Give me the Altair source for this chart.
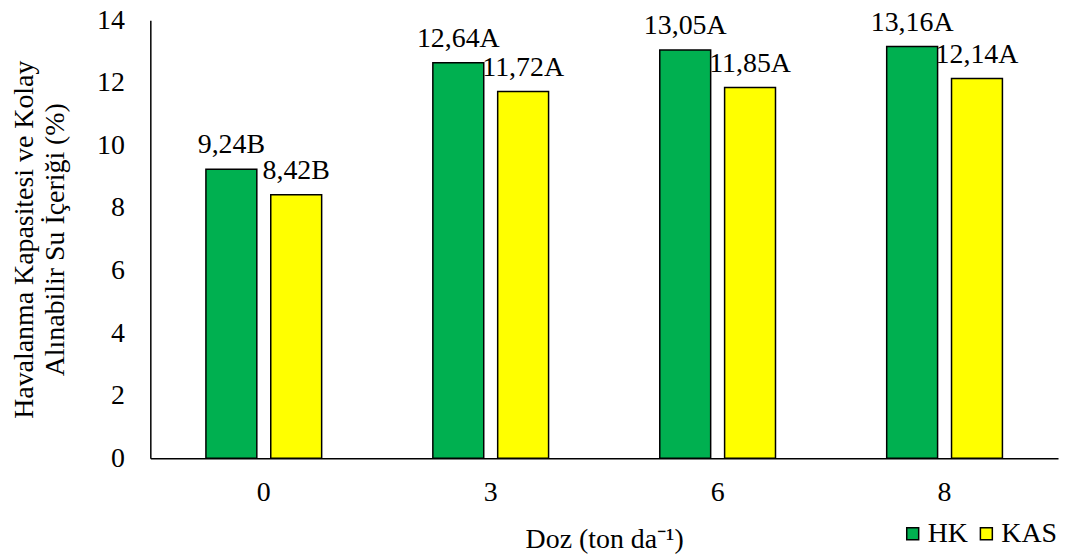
import altair as alt
import pandas as pd

doz = ["0", "3", "6", "8"]
hk = [9.24, 12.64, 13.05, 13.16]
kas = [8.42, 11.72, 11.85, 12.14]
hk_letters = ["B", "A", "A", "A"]
kas_letters = ["B", "A", "A", "A"]
series = ["HK", "KAS"]
colors = ["#00B050", "#FFFF00"]

rows = []
for d, v, l in zip(doz, hk, hk_letters):
    rows.append({"doz": d, "seri": "HK", "deger": v, "etiket": f"{v:.2f}".replace(".", ",") + l})
for d, v, l in zip(doz, kas, kas_letters):
    rows.append({"doz": d, "seri": "KAS", "deger": v, "etiket": f"{v:.2f}".replace(".", ",") + l})
df = pd.DataFrame(rows)

FONT = "Liberation Serif"
FS = 28

x = alt.X("doz:N", sort=doz,
          scale=alt.Scale(paddingInner=0.49, paddingOuter=0.245),
          axis=alt.Axis(title="Doz (ton da⁻¹)", labelAngle=0, ticks=False,
                        labelPadding=21, titlePadding=19, domainColor="black",
                        domainWidth=1.5))
xo = alt.XOffset("seri:N", sort=series,
                 scale=alt.Scale(paddingInner=0.215, paddingOuter=0))
y = alt.Y("deger:Q",
          scale=alt.Scale(domain=[0, 14], nice=False),
          axis=alt.Axis(title=["Havalanma Kapasitesi ve Kolay", "Alınabilir Su İçeriği (%)"],
                        values=[0, 2, 4, 6, 8, 10, 12, 14], grid=False, ticks=False,
                        labelPadding=26, domainColor="black", domainWidth=1.5,
                        titleX=-118, titleY=220, titleAngle=270,
                        titleAlign="center", titleBaseline="alphabetic",
                        titleLineHeight=31))

bars = alt.Chart(df).mark_bar(stroke="black", strokeWidth=1.5).encode(
    x=x, xOffset=xo, y=y,
    color=alt.Color("seri:N", sort=series,
                    scale=alt.Scale(domain=series, range=colors),
                    legend=alt.Legend(title=None, orient="none", direction="horizontal",
                                      legendX=752, legendY=502, padding=0,
                                      symbolType="square", symbolSize=144,
                                      symbolStrokeColor="black", symbolStrokeWidth=1.5,
                                      labelFontSize=FS, labelOffset=1, columnPadding=4,
                                      labelFont=FONT, labelColor="black", labelLimit=300)),
)

labels = alt.Chart(df).mark_text(dy=-16, baseline="alphabetic", align="center",
                                 font=FONT, fontSize=FS, color="black").encode(
    x=x, xOffset=xo, y=y, text="etiket:N"
)

chart = alt.layer(bars, labels).properties(
    width=912, height=440,
    autosize=alt.AutoSizeParams(type="none"),
    padding={"left": 143, "top": 11, "right": 4, "bottom": 100},
).configure_view(stroke=None).configure_axis(
    labelFont=FONT, titleFont=FONT, labelFontSize=FS, titleFontSize=FS,
    labelColor="black", titleColor="black", titleFontWeight="normal",
).configure_legend(labelFont=FONT, labelFontSize=FS, labelColor="black")

chart.save("out.html", embed_options={"renderer": "svg", "actions": False})
